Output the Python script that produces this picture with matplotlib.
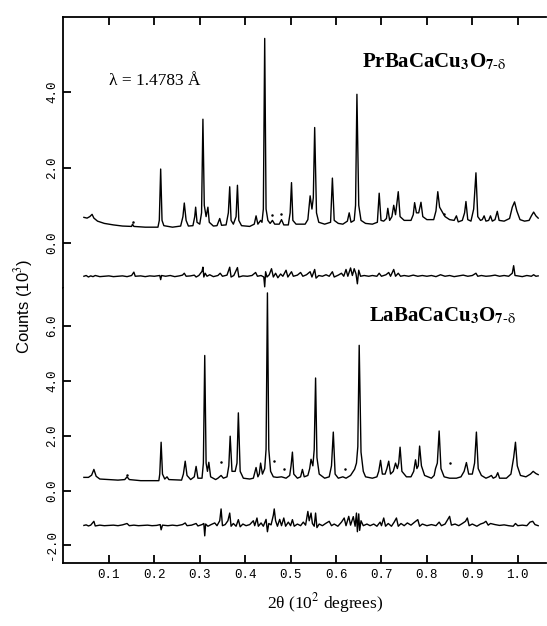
import numpy as np
import matplotlib
matplotlib.use('Agg')
import matplotlib.pyplot as plt

plt.rcParams['mathtext.fontset'] = 'stix'

# 2theta in units of 10^2 degrees, counts in 10^3
# ---- PrBaCaCu3O7-d : observed/calculated profile
pr_x = [0.045, 0.052, 0.058, 0.063, 0.067, 0.075, 0.09, 0.11, 0.13, 0.15, 0.152, 0.155, 0.18, 0.208,
        0.211, 0.214, 0.217, 0.221, 0.24, 0.258, 0.263, 0.266, 0.270, 0.275, 0.285, 0.289, 0.291, 0.294,
        0.300, 0.304, 0.307, 0.310, 0.314, 0.318, 0.321, 0.33, 0.338, 0.344, 0.348, 0.358, 0.363, 0.366,
        0.369, 0.374, 0.380, 0.383, 0.386, 0.392, 0.41, 0.42, 0.424, 0.428, 0.434, 0.437, 0.440, 0.443,
        0.446, 0.450, 0.455, 0.46, 0.465, 0.475, 0.48, 0.485, 0.495, 0.499, 0.502, 0.505, 0.512, 0.525,
        0.532, 0.538, 0.543, 0.547, 0.550, 0.553, 0.557, 0.562, 0.575, 0.588, 0.592, 0.596, 0.605, 0.615,
        0.625, 0.629, 0.633, 0.640, 0.643, 0.646, 0.650, 0.655, 0.665, 0.68, 0.691, 0.695, 0.699, 0.705,
        0.711, 0.714, 0.718, 0.723, 0.727, 0.731, 0.737, 0.741, 0.75, 0.765, 0.770, 0.773, 0.777, 0.782,
        0.787, 0.791, 0.80, 0.815, 0.820, 0.824, 0.828, 0.835, 0.84, 0.85, 0.86, 0.865, 0.869, 0.878,
        0.883, 0.886, 0.890, 0.897, 0.903, 0.908, 0.912, 0.918, 0.922, 0.926, 0.930, 0.936, 0.940, 0.944,
        0.950, 0.955, 0.959, 0.97, 0.982, 0.988, 0.993, 0.998, 1.005, 1.015, 1.025, 1.030, 1.035, 1.040,
        1.045]
pr_y = [0.68, 0.66, 0.70, 0.76, 0.66, 0.58, 0.52, 0.48, 0.45, 0.44, 0.50, 0.44, 0.42, 0.42,
        0.60, 1.96, 0.60, 0.46, 0.42, 0.45, 0.70, 1.06, 0.60, 0.45, 0.46, 0.70, 0.95, 0.55,
        0.50, 0.80, 3.28, 1.00, 0.70, 0.95, 0.55, 0.45, 0.46, 0.65, 0.47, 0.48, 0.80, 1.49,
        0.60, 0.50, 0.70, 1.53, 0.60, 0.46, 0.44, 0.50, 0.72, 0.50, 0.60, 0.55, 0.90, 5.42,
        0.90, 0.60, 0.52, 0.60, 0.50, 0.50, 0.62, 0.48, 0.48, 0.80, 1.60, 0.60, 0.50, 0.50,
        0.50, 0.62, 1.25, 0.90, 1.20, 3.06, 0.80, 0.55, 0.50, 0.55, 1.72, 0.60, 0.52, 0.50,
        0.58, 0.80, 0.55, 0.60, 1.00, 3.94, 1.00, 0.60, 0.52, 0.50, 0.55, 1.32, 0.60, 0.58,
        0.65, 0.92, 0.60, 0.70, 1.00, 0.75, 1.36, 0.70, 0.60, 0.60, 0.75, 1.07, 0.80, 0.80,
        1.08, 0.70, 0.62, 0.62, 0.85, 1.36, 0.95, 0.80, 0.70, 0.62, 0.60, 0.72, 0.56, 0.60,
        0.80, 1.10, 0.62, 0.58, 0.90, 1.86, 0.70, 0.60, 0.62, 0.72, 0.58, 0.60, 0.72, 0.58,
        0.62, 0.84, 0.60, 0.58, 0.65, 0.95, 1.09, 0.85, 0.62, 0.58, 0.60, 0.72, 0.82, 0.72,
        0.66]

# ---- PrBaCaCu3O7-d : difference curve
pr_dx = [0.045, 0.05, 0.055, 0.06, 0.065, 0.07, 0.08, 0.09, 0.10, 0.11, 0.12, 0.13, 0.14, 0.15, 0.155,
         0.158, 0.17, 0.18, 0.19, 0.20, 0.212, 0.214, 0.216, 0.225, 0.235, 0.245, 0.255, 0.262, 0.266,
         0.27, 0.28, 0.288, 0.292, 0.298, 0.305, 0.307, 0.309, 0.312, 0.316, 0.322, 0.33, 0.34, 0.345,
         0.35, 0.36, 0.366, 0.369, 0.375, 0.383, 0.386, 0.395, 0.405, 0.415, 0.423, 0.427, 0.435, 0.441,
         0.443, 0.445, 0.448, 0.453, 0.458, 0.462, 0.467, 0.472, 0.478, 0.483, 0.49, 0.494, 0.502, 0.506,
         0.515, 0.522, 0.527, 0.535, 0.543, 0.547, 0.553, 0.556, 0.562, 0.57, 0.578, 0.585, 0.592, 0.596,
         0.605, 0.612, 0.617, 0.622, 0.626, 0.632, 0.636, 0.640, 0.644, 0.647, 0.650, 0.654, 0.662, 0.672,
         0.68, 0.69, 0.695, 0.70, 0.71, 0.716, 0.72, 0.727, 0.731, 0.737, 0.742, 0.75, 0.76, 0.77, 0.78,
         0.79, 0.80, 0.81, 0.82, 0.83, 0.84, 0.85, 0.86, 0.87, 0.88, 0.89, 0.90, 0.908, 0.912, 0.92, 0.93,
         0.94, 0.95, 0.96, 0.97, 0.98, 0.988, 0.991, 0.994, 1.00, 1.01, 1.02, 1.03, 1.035, 1.04, 1.045]
pr_dy = [-0.88, -0.86, -0.90, -0.87, -0.89, -0.86, -0.89, -0.88, -0.87, -0.89, -0.88, -0.87, -0.89, -0.86, -0.77,
         -0.88, -0.87, -0.89, -0.87, -0.88, -0.86, -0.97, -0.86, -0.88, -0.86, -0.89, -0.87, -0.85, -0.80,
         -0.88, -0.87, -0.85, -0.90, -0.86, -0.75, -0.64, -0.90, -0.80, -0.88, -0.84, -0.89, -0.86, -0.80,
         -0.88, -0.85, -0.64, -0.90, -0.86, -0.65, -0.90, -0.87, -0.88, -0.86, -0.78, -0.88, -0.86, -0.90,
         -1.16, -0.76, -0.90, -0.84, -0.68, -0.90, -0.80, -0.92, -0.82, -0.88, -0.72, -0.90, -0.76, -0.88,
         -0.85, -0.78, -0.88, -0.84, -0.76, -0.90, -0.70, -0.93, -0.86, -0.88, -0.84, -0.88, -0.76, -0.90,
         -0.85, -0.80, -0.88, -0.70, -0.88, -0.66, -0.86, -0.68, -0.82, -1.08, -0.72, -0.88, -0.86, -0.88,
         -0.86, -0.88, -0.80, -0.88, -0.84, -0.78, -0.88, -0.70, -0.88, -0.80, -0.88, -0.86, -0.88, -0.85, -0.88,
         -0.86, -0.88, -0.86, -0.89, -0.84, -0.88, -0.86, -0.89, -0.87, -0.85, -0.88, -0.86, -0.80, -0.88, -0.86, -0.88,
         -0.87, -0.85, -0.88, -0.86, -0.88, -0.80, -0.60, -0.86, -0.87, -0.89, -0.86, -0.88, -0.84, -0.88, -0.87]

# ---- LaBaCaCu3O7-d : observed/calculated profile
la_x = [0.045, 0.055, 0.062, 0.067, 0.072, 0.08, 0.10, 0.12, 0.135, 0.14, 0.145, 0.17, 0.21, 0.212,
        0.215, 0.218, 0.223, 0.228, 0.232, 0.26, 0.264, 0.268, 0.272, 0.28, 0.288, 0.292, 0.296, 0.305,
        0.308, 0.311, 0.314, 0.317, 0.320, 0.324, 0.335, 0.340, 0.347, 0.352, 0.360, 0.364, 0.367, 0.371,
        0.378, 0.382, 0.385, 0.389, 0.396, 0.41, 0.418, 0.424, 0.428, 0.431, 0.434, 0.438, 0.443, 0.446,
        0.449, 0.452, 0.456, 0.462, 0.47, 0.48, 0.49, 0.498, 0.501, 0.504, 0.507, 0.515, 0.522, 0.526,
        0.530, 0.538, 0.542, 0.545, 0.549, 0.552, 0.555, 0.558, 0.563, 0.575, 0.585, 0.590, 0.594, 0.598,
        0.605, 0.615, 0.622, 0.632, 0.638, 0.641, 0.645, 0.648, 0.651, 0.655, 0.66, 0.665, 0.68, 0.69,
        0.694, 0.698, 0.702, 0.708, 0.712, 0.716, 0.720, 0.726, 0.731, 0.735, 0.738, 0.741, 0.745, 0.755,
        0.765, 0.771, 0.775, 0.778, 0.781, 0.784, 0.788, 0.795, 0.81, 0.816, 0.819, 0.823, 0.827, 0.831,
        0.838, 0.85, 0.865, 0.875, 0.882, 0.887, 0.892, 0.900, 0.905, 0.909, 0.913, 0.920, 0.93, 0.937,
        0.942, 0.946, 0.952, 0.956, 0.960, 0.975, 0.985, 0.991, 0.995, 0.999, 1.006, 1.018, 1.028, 1.034,
        1.040, 1.045]
la_y = [0.48, 0.48, 0.56, 0.77, 0.52, 0.42, 0.40, 0.38, 0.40, 0.50, 0.40, 0.36, 0.36, 0.60,
        1.76, 0.60, 0.42, 0.50, 0.40, 0.38, 0.60, 1.07, 0.55, 0.40, 0.50, 0.88, 0.45, 0.45,
        1.00, 4.92, 1.00, 0.70, 1.03, 0.50, 0.40, 0.45, 0.55, 0.45, 0.50, 0.90, 1.98, 0.70,
        0.70, 1.00, 2.83, 0.70, 0.45, 0.42, 0.45, 0.84, 0.50, 0.60, 1.00, 0.60, 0.80, 1.50,
        7.20, 1.50, 0.70, 0.50, 0.48, 0.50, 0.45, 0.55, 0.90, 1.40, 0.60, 0.45, 0.50, 0.77,
        0.50, 0.55, 0.80, 1.14, 0.90, 1.50, 4.10, 1.20, 0.60, 0.45, 0.50, 0.90, 2.13, 0.60,
        0.45, 0.50, 0.45, 0.55, 0.70, 0.78, 1.00, 1.60, 5.29, 1.40, 0.70, 0.50, 0.45, 0.50,
        0.70, 1.10, 0.60, 0.60, 0.80, 1.07, 0.60, 0.70, 1.00, 0.80, 1.00, 1.58, 0.70, 0.50,
        0.50, 0.70, 1.12, 0.80, 0.90, 1.62, 0.90, 0.55, 0.45, 0.55, 0.80, 1.00, 2.17, 0.80,
        0.50, 0.45, 0.45, 0.50, 0.70, 1.02, 0.60, 0.60, 1.00, 2.13, 0.80, 0.55, 0.45, 0.50,
        0.55, 0.45, 0.50, 0.65, 0.45, 0.45, 0.60, 1.20, 1.76, 0.90, 0.55, 0.50, 0.60, 0.70,
        0.62, 0.58]

# ---- LaBaCaCu3O7-d : difference curve
la_dx = [0.045, 0.05, 0.055, 0.06, 0.067, 0.07, 0.08, 0.09, 0.10, 0.11, 0.12, 0.13, 0.14, 0.145, 0.155,
         0.165, 0.175, 0.185, 0.195, 0.205, 0.213, 0.215, 0.218, 0.23, 0.24, 0.25, 0.262, 0.268, 0.272,
         0.282, 0.292, 0.296, 0.305, 0.309, 0.311, 0.313, 0.318, 0.325, 0.333, 0.338, 0.344, 0.347, 0.35,
         0.356, 0.362, 0.366, 0.369, 0.374, 0.380, 0.385, 0.389, 0.395, 0.402, 0.41, 0.418, 0.421, 0.426,
         0.429, 0.435, 0.440, 0.446, 0.449, 0.452, 0.457, 0.462, 0.464, 0.467, 0.471, 0.476, 0.48, 0.485,
         0.489, 0.495, 0.50, 0.504, 0.508, 0.515, 0.522, 0.528, 0.533, 0.538, 0.541, 0.545, 0.548, 0.552,
         0.555, 0.558, 0.563, 0.57, 0.577, 0.585, 0.59, 0.596, 0.604, 0.612, 0.618, 0.622, 0.628, 0.632,
         0.638, 0.642, 0.645, 0.647, 0.650, 0.652, 0.655, 0.66, 0.668, 0.675, 0.683, 0.69, 0.697, 0.70,
         0.705, 0.709, 0.715, 0.722, 0.728, 0.733, 0.737, 0.743, 0.75, 0.757, 0.765, 0.773, 0.78, 0.784,
         0.79, 0.80, 0.81, 0.82, 0.827, 0.832, 0.84, 0.85, 0.854, 0.862, 0.87, 0.878, 0.885, 0.889, 0.893,
         0.90, 0.91, 0.918, 0.925, 0.93, 0.935, 0.94, 0.95, 0.96, 0.97, 0.98, 0.99, 0.995, 1.00, 1.01,
         1.02, 1.027, 1.033, 1.038, 1.045]
la_dy = [-1.27, -1.25, -1.29, -1.26, -1.12, -1.29, -1.26, -1.28, -1.27, -1.26, -1.28, -1.25, -1.20, -1.28, -1.26,
         -1.28, -1.27, -1.26, -1.28, -1.27, -1.24, -1.43, -1.26, -1.28, -1.26, -1.28, -1.24, -1.18, -1.28,
         -1.26, -1.20, -1.29, -1.24, -1.20, -1.65, -1.22, -1.30, -1.24, -1.18, -1.28, -1.10, -0.67, -1.28,
         -1.24, -1.10, -0.82, -1.30, -1.20, -1.30, -1.06, -1.32, -1.22, -1.28, -1.24, -1.10, -1.28, -1.00,
         -1.30, -1.18, -1.30, -1.05, -1.50, -1.20, -1.25, -0.90, -0.67, -1.10, -1.30, -1.05, -1.28, -1.00,
         -1.30, -1.15, -1.28, -1.06, -1.30, -1.22, -1.28, -1.15, -1.26, -0.76, -1.10, -0.82, -1.20, -1.30,
         -0.82, -1.35, -1.22, -1.28, -1.20, -1.12, -1.28, -1.22, -1.30, -1.15, -1.00, -1.28, -0.94, -1.26,
         -0.95, -1.30, -0.82, -1.50, -0.85, -1.45, -1.10, -1.28, -1.22, -1.28, -1.22, -1.30, -1.15, -1.28,
         -1.00, -1.30, -1.20, -1.30, -1.15, -1.00, -1.30, -1.20, -1.28, -1.18, -1.26, -1.15, -1.06, -1.30,
         -1.22, -1.28, -1.24, -1.28, -1.15, -1.28, -1.22, -0.94, -1.26, -1.22, -1.28, -1.20, -1.12, -1.00, -1.28,
         -1.22, -1.30, -1.22, -1.18, -1.12, -1.26, -1.20, -1.24, -1.27, -1.25, -1.28, -1.30, -1.20, -1.28, -1.26,
         -1.28, -1.15, -1.12, -1.24, -1.28]

# small impurity / observation dots above the profiles
pr_dot_x = [0.152, 0.458, 0.478, 0.838]
pr_dot_y = [0.56, 0.74, 0.78, 0.76]
la_dot_x = [0.140, 0.347, 0.464, 0.485, 0.619, 0.850]
la_dot_y = [0.55, 1.05, 1.07, 0.80, 0.80, 1.00]

xticks = [0.1, 0.2, 0.3, 0.4, 0.5, 0.6, 0.7, 0.8, 0.9, 1.0]
pr_yticks = [0.0, 2.0, 4.0]
la_yticks = [-2.0, 0.0, 2.0, 4.0, 6.0]

fig = plt.figure(figsize=(5.47, 6.26), dpi=100)
left, width = 0.116, 0.882
ax1 = fig.add_axes([left, 0.540, width, 0.433])
ax2 = fig.add_axes([left, 0.1006, width, 0.4394], sharex=ax1)

ax1.plot(pr_x, pr_y, color='k', lw=1.0)
ax1.plot(pr_dx, pr_dy, color='k', lw=1.0)
ax1.plot(pr_dot_x, pr_dot_y, 'k.', ms=1.6)
ax2.plot(la_x, la_y, color='k', lw=1.0)
ax2.plot(la_dx, la_dy, color='k', lw=1.0)
ax2.plot(la_dot_x, la_dot_y, 'k.', ms=1.6)

ax1.set_xlim(0.0, 1.062)
ax1.set_ylim(-1.19, 5.99)
ax2.set_ylim(-2.64, 7.38)

mono = dict(family='Liberation Mono', size=9)

for ax in (ax1, ax2):
    ax.spines['right'].set_visible(False)
    for s in ax.spines.values():
        s.set_linewidth(1.3)
    ax.tick_params(direction='in', length=6, width=1.3)
    ax.set_xticks(xticks)

ax1.spines['bottom'].set_visible(False)
ax2.spines['top'].set_visible(False)
ax1.tick_params(axis='x', bottom=False, top=True, labelbottom=False)
ax2.tick_params(axis='x', bottom=True, top=False, labelbottom=True, pad=4)

ax1.set_yticks(pr_yticks)
ax2.set_yticks(la_yticks)
ax2.set_xticklabels(['%.1f' % v for v in xticks], fontdict=mono)
ax1.set_yticklabels(['%.1f' % v for v in pr_yticks], fontdict=mono, rotation=90, va='center')
ax2.set_yticklabels(['%.1f' % v for v in la_yticks], fontdict=mono, rotation=90, va='center')
ax1.tick_params(axis='y', pad=4)
ax2.tick_params(axis='y', pad=4)

ax1.text(0.10, 4.30, 'λ = 1.4783 Å', family='Liberation Serif', size=12.5, va='center')
ax1.text(0.658, 4.79, r'PrBaCaCu$_\mathbf{3}$O$_{\mathbf{7\text{-}}\mathrm{\delta}}$',
         family='Liberation Serif', weight='bold', size=15, va='center')
ax2.text(0.673, 6.35, r'LaBaCaCu$_\mathbf{3}$O$_{\mathbf{7\text{-}}\mathrm{\delta}}$',
         family='Liberation Serif', weight='bold', size=15, va='center')

fig.text(24 / 547, 1 - 307 / 626, r'Counts (10$^3$)', family='Liberation Sans', size=12,
         rotation=90, ha='center', va='center')
fig.text(325 / 547, 1 - 603 / 626, r'2θ (10$^2$ degrees)', family='Liberation Serif', size=12.5,
         ha='center', va='center')

fig.savefig('out.png', dpi=100)
